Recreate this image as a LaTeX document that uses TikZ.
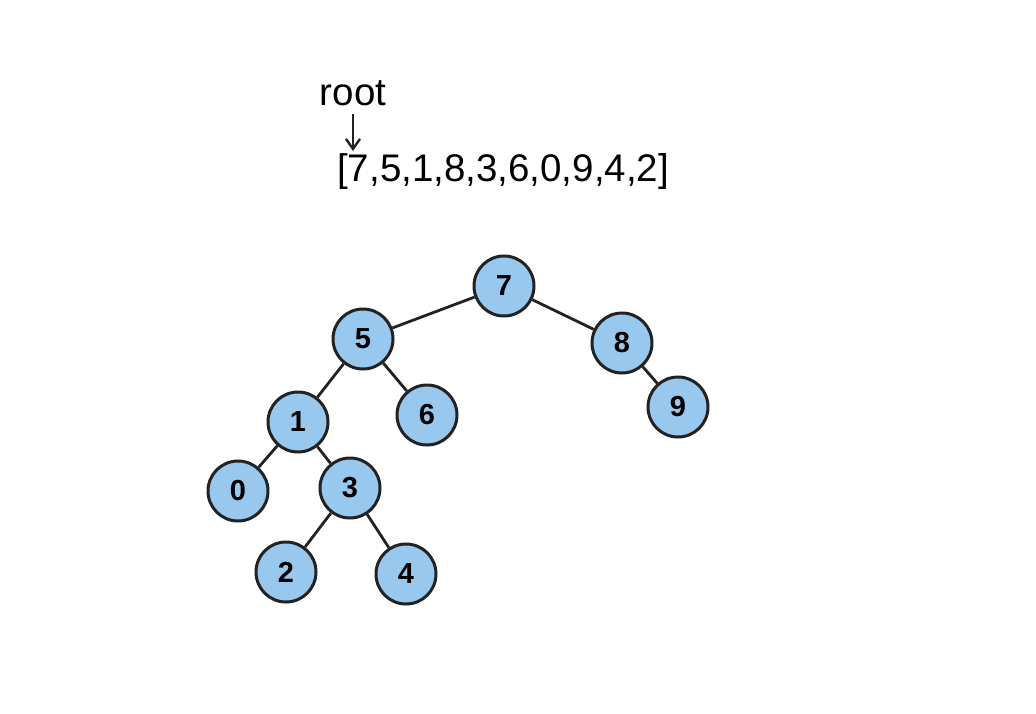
\documentclass[tikz,border=0pt]{standalone}
\usepackage{fontspec}
\setmainfont{Liberation Sans}
\usetikzlibrary{arrows.meta}
\definecolor{nodefill}{HTML}{99C8EE}
\definecolor{ink}{HTML}{222222}
\begin{document}
\begin{tikzpicture}[x=1pt,y=-1pt,
  treenode/.style={circle,draw=ink,line width=3pt,fill=nodefill,minimum size=60pt,inner sep=0pt,font=\fontsize{29}{31}\selectfont\bfseries},
  branch/.style={draw=ink,line width=2.8pt},
  label/.style={font=\fontsize{38.5}{41}\selectfont,text=black,inner sep=0pt}]
\useasboundingbox (0,0) rectangle (1036,713);
% array caption
\node[label] (rootlbl) at (353,93) {root};
\node[label,anchor=west] (arr) at (337,172) {[7,5,1,8,3,6,0,9,4,2]};
\coordinate (arrS) at (353,114);
\coordinate (arrE) at (353,151);
\draw[ink,line width=2.4pt,-{Straight Barb[length=10pt,width=14pt,line width=2.4pt]}] (arrS) -- (arrE);
% tree nodes
\node[treenode] (n7) at (504,286) {7};
\node[treenode] (n5) at (363,339) {5};
\node[treenode] (n8) at (622,343) {8};
\node[treenode] (n9) at (678,407) {9};
\node[treenode] (n1) at (298,422) {1};
\node[treenode] (n6) at (427,415) {6};
\node[treenode] (n0) at (238,491) {0};
\node[treenode] (n3) at (350,488) {3};
\node[treenode] (n2) at (286,572) {2};
\node[treenode] (n4) at (406,574) {4};
% edges
\draw[branch] (n7) -- (n5);
\draw[branch] (n7) -- (n8);
\draw[branch] (n8) -- (n9);
\draw[branch] (n5) -- (n1);
\draw[branch] (n5) -- (n6);
\draw[branch] (n1) -- (n0);
\draw[branch] (n1) -- (n3);
\draw[branch] (n3) -- (n2);
\draw[branch] (n3) -- (n4);
\end{tikzpicture}
\end{document}
